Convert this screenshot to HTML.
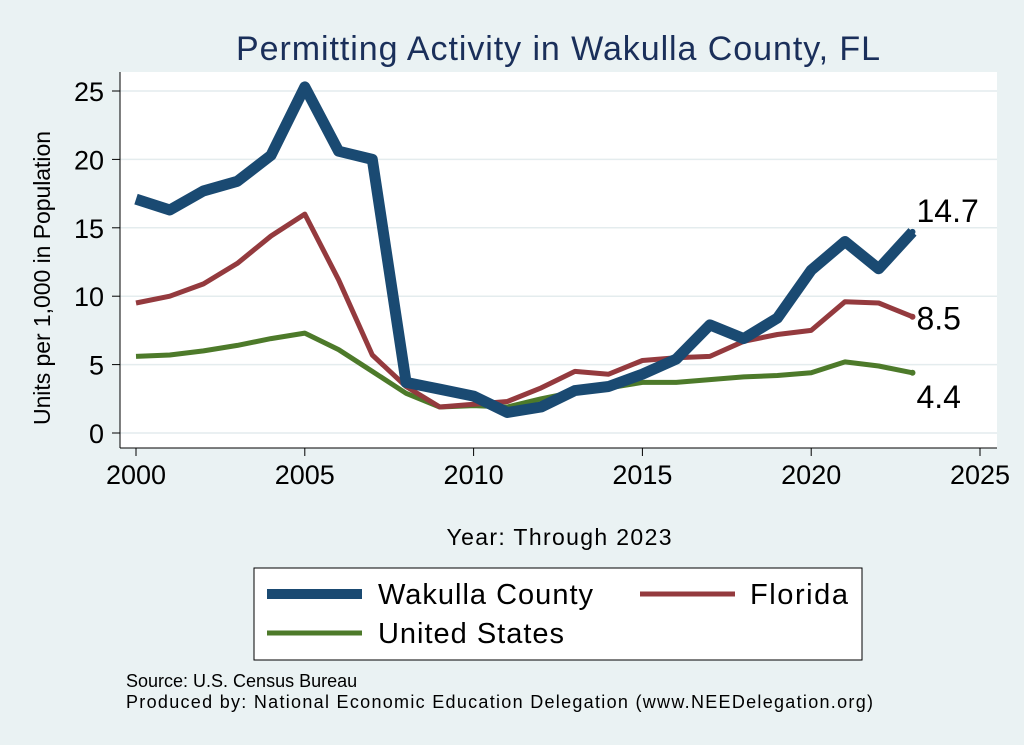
<!DOCTYPE html>
<html><head><meta charset="utf-8"><style>
body{margin:0;background:#eaf2f3;font-family:"Liberation Sans",sans-serif;}
svg{display:block}
</style></head><body>
<svg id="chart" width="1024" height="745" font-family="Liberation Sans, sans-serif">
<rect x="0" y="0" width="1024" height="745" fill="#eaf2f3"/>
<text x="558" y="60" font-size="34" fill="#1a2f5a" text-anchor="middle" textLength="644">Permitting Activity in Wakulla County, FL</text>
<rect x="120" y="72" width="877" height="376" fill="#fff"/>
<g id="grid"></g><g id="axes"></g><g id="series"></g>
<text x="559" y="545" font-size="23" text-anchor="middle" textLength="225">Year: Through 2023</text>
<text transform="translate(50,278) rotate(-90)" font-size="23" text-anchor="middle" textLength="294">Units per 1,000 in Population</text>
<g>
<rect x="254" y="568" width="608" height="92" fill="#fff" stroke="#000" stroke-width="1"/>
<line x1="267" y1="594" x2="362" y2="594" stroke="#1a4a72" stroke-width="10"/>
<text x="378" y="604" font-size="29" textLength="215">Wakulla County</text>
<line x1="640" y1="594" x2="735" y2="594" stroke="#943a3e" stroke-width="5"/>
<text x="750" y="604" font-size="29" textLength="98">Florida</text>
<line x1="267" y1="633" x2="362" y2="633" stroke="#4d7a2a" stroke-width="5"/>
<text x="378" y="643" font-size="29" textLength="186">United States</text>
</g>
<text x="126" y="687" font-size="18">Source: U.S. Census Bureau</text>
<text x="126" y="708" font-size="18" textLength="747">Produced by: National Economic Education Delegation (www.NEEDelegation.org)</text>
</svg>
<script>
const years=[2000,2001,2002,2003,2004,2005,2006,2007,2008,2009,2010,2011,2012,2013,2014,2015,2016,2017,2018,2019,2020,2021,2022,2023];
const wakulla=[17.1,16.3,17.7,18.4,20.3,25.3,20.6,20.0,3.7,3.2,2.7,1.5,1.9,3.1,3.4,4.3,5.4,7.9,6.9,8.4,11.9,14.0,12.0,14.7];
const florida=[9.5,10.0,10.9,12.4,14.4,16.0,11.2,5.7,3.4,1.9,2.1,2.3,3.3,4.5,4.3,5.3,5.5,5.6,6.7,7.2,7.5,9.6,9.5,8.5];
const us=[5.6,5.7,6.0,6.4,6.9,7.3,6.1,4.5,2.9,1.9,2.0,1.9,2.5,3.0,3.3,3.7,3.7,3.9,4.1,4.2,4.4,5.2,4.9,4.4];
const xTicks=[2000,2005,2010,2015,2020,2025];
const yTicks=[0,5,10,15,20,25];
const NS="http://www.w3.org/2000/svg";
const xs=v=>136+(v-2000)*(980-136)/25;
const ys=v=>433-v*(433-91)/25;
function mk(tag,attrs,parent,txt){const e=document.createElementNS(NS,tag);for(const k in attrs)e.setAttribute(k,attrs[k]);if(txt!==undefined)e.textContent=txt;document.getElementById(parent).appendChild(e);return e;}
yTicks.forEach(t=>{
 const g=mk('line',{x1:120,x2:997,y1:ys(t),y2:ys(t),stroke:'#e4ecee','stroke-width':1.5},'grid');
 
 
 const tk=mk('line',{x1:112,x2:120,y1:ys(t),y2:ys(t),stroke:'#000'},'axes');
 
 
 const l=mk('text',{x:104,y:ys(t)+10,'font-size':27,'text-anchor':'end'},'axes',String(t));
 
 
});
const ax=mk('line',{x1:120,x2:120,y1:72,y2:448,stroke:'#000'},'axes');


const bx=mk('line',{x1:120,x2:997,y1:448,y2:448,stroke:'#000'},'axes');


xTicks.forEach(t=>{
 const tk=mk('line',{x1:xs(t),x2:xs(t),y1:448,y2:456,stroke:'#000'},'axes');
 
 
 const l=mk('text',{x:xs(t),y:484,'font-size':27,'text-anchor':'middle'},'axes',String(t));
 
 
});
function line(vals,color,w,name,ly){
 const d=vals.map((v,i)=>(i?'L':'M')+xs(years[i]).toFixed(1)+','+ys(v).toFixed(1)).join('');
 const p=mk('path',{d:d,fill:'none',stroke:color,'stroke-width':w,'stroke-linejoin':'round'},'series');
 
 
 const last=vals[vals.length-1];
 const c=mk('circle',{cx:xs(years[years.length-1]),cy:ys(last),r:3,fill:color},'series');
 
 
 const t=mk('text',{x:xs(years[years.length-1])+4,y:ys(last)+ly,'font-size':32},'series',last.toFixed(1));
 
 
}
line(us,'#4d7a2a',5,'us',35);
line(florida,'#943a3e',5,'florida',13);
line(wakulla,'#1a4a72',11,'wakulla',-10);
</script>
</body></html>
